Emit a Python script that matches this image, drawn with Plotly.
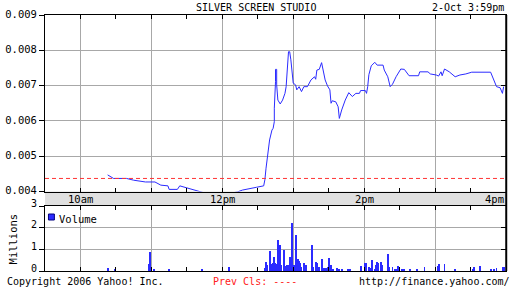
import plotly.graph_objects as go

DAY = "2006-10-02"

price_times = ["10:23","10:27","10:28","10:39","10:45","10:55","11:03","11:08","11:14","11:15",
               "11:22","11:24","11:28","11:35","11:41","11:47","12:04","12:13","12:17","12:22",
               "12:29","12:35","12:36","12:37","12:40","12:42","12:43","12:44","12:44","12:45",
               "12:45","12:46","12:46","12:47","12:49","12:51","12:53","12:54","12:55","12:56",
               "12:57","12:58","13:00","13:02","13:03","13:05","13:07","13:09","13:12","13:15",
               "13:18","13:19","13:20","13:22","13:24","13:25","13:27","13:29","13:31","13:32",
               "13:33","13:36","13:38","13:39","13:41","13:44","13:47","13:50","13:53","13:56",
               "13:57","14:01","14:02","14:03","14:04","14:06","14:09","14:11","14:16","14:17",
               "14:20","14:22","14:24","14:27","14:31","14:34","14:38","14:46","14:47","14:54",
               "14:56","15:01","15:03","15:05","15:06","15:08","15:12","15:17","15:21","15:26",
               "15:31","15:47","15:49","15:52","15:55","15:57","15:58"]
prices = [0.00447,0.00440,0.00437,0.00437,0.00432,0.00427,0.00427,0.00418,0.00416,0.00406,
          0.00406,0.00416,0.00412,0.00406,0.00399,0.00394,0.00393,0.00399,0.00404,0.00408,
          0.00412,0.00416,0.00433,0.00466,0.00546,0.00574,0.00579,0.00598,0.00636,0.00711,
          0.00746,0.00746,0.00702,0.00659,0.00648,0.00659,0.00678,0.00697,0.00735,0.00796,
          0.00796,0.00773,0.00707,0.00702,0.00688,0.00697,0.00683,0.00697,0.00697,0.00716,
          0.00725,0.00718,0.00744,0.00746,0.00765,0.00746,0.00716,0.00699,0.00688,0.00650,
          0.00657,0.00654,0.00640,0.00607,0.00631,0.00659,0.00680,0.00669,0.00678,0.00678,
          0.00686,0.00686,0.00678,0.00697,0.00731,0.00756,0.00766,0.00758,0.00758,0.00744,
          0.00725,0.00697,0.00704,0.00725,0.00747,0.00746,0.00728,0.00728,0.00739,0.00739,
          0.00733,0.00730,0.00727,0.00739,0.00728,0.00747,0.00739,0.00725,0.00730,0.00733,
          0.00738,0.00738,0.00721,0.00697,0.00694,0.00678,0.00697]

vol_times = ["10:23","10:29","10:58","10:59","11:02","11:15","11:43","12:06","12:36","12:37",
             "12:38","12:40","12:41","12:43","12:44","12:45","12:46","12:47","12:48","12:49",
             "12:50","12:52","12:53","12:54","12:55","12:56","12:57","12:59","13:00","13:01",
             "13:02","13:04","13:05","13:06","13:07","13:09","13:11","13:16","13:17","13:19",
             "13:20","13:21","13:22","13:24","13:26","13:28","13:29","13:30","13:32","13:34",
             "13:37","13:39","13:41","13:46","13:48","13:57","14:01","14:02","14:04","14:06",
             "14:07","14:09","14:10","14:11","14:12","14:14","14:15","14:20","14:21","14:24",
             "14:26","14:28","14:29","14:32","14:34","14:39","14:45","14:51","15:02","15:03",
             "15:08","15:17","15:32","15:33","15:38","15:47","15:50","15:52","15:57","15:58"]
volumes = [0.14,0.08,0.32,0.88,0.08,0.08,0.05,0.20,0.15,0.43,
           0.28,0.92,0.31,0.38,0.66,0.35,0.31,1.43,0.05,1.20,
           0.28,0.97,0.20,0.25,0.28,0.28,0.63,2.20,0.20,0.28,
           1.66,0.55,0.46,0.35,0.20,0.35,0.28,1.20,0.20,0.40,
           0.35,0.15,0.20,0.55,0.12,0.15,0.20,0.62,0.28,0.05,
           0.12,0.05,0.10,0.10,0.10,0.23,0.35,0.35,0.20,0.15,
           0.50,0.05,0.30,0.40,0.38,0.43,0.30,0.77,0.20,0.20,
           0.10,0.10,0.23,0.05,0.05,0.10,0.05,0.20,0.23,0.32,
           0.32,0.10,0.10,0.20,0.23,0.10,0.10,0.15,0.20,0.20]

prev_close = 0.00437
y_ticks_price = [0.004, 0.005, 0.006, 0.007, 0.008, 0.009]
y_ticks_vol = [0, 1, 2, 3]
band_labels = [("10:00", "10am"), ("12:00", "12pm"), ("14:00", "2pm"), ("16:00", "4pm")]

FONT = "DejaVu Sans Mono"
BLUE = "#2b2bff"
GRID = "#a8a8a8"

def ts(t):
    return f"{DAY} {t}"

x0, x1 = ts("09:30"), ts("16:00")

fig = go.Figure()
fig.add_trace(go.Scatter(x=[ts(t) for t in price_times], y=prices, mode="lines",
                         line=dict(color=BLUE, width=1), xaxis="x", yaxis="y",
                         showlegend=False, hoverinfo="skip"))
fig.add_trace(go.Bar(x=[ts(t) for t in vol_times], y=volumes, width=45000,
                     marker=dict(color=BLUE, line=dict(width=0)), xaxis="x2", yaxis="y2",
                     showlegend=False, hoverinfo="skip"))
# helper traces so right-side inner tick axes get drawn
fig.add_trace(go.Scatter(x=[x0], y=[0.005], mode="lines", xaxis="x", yaxis="y3",
                         showlegend=False, hoverinfo="skip"))
fig.add_trace(go.Scatter(x=[x0], y=[1], mode="lines", xaxis="x2", yaxis="y4",
                         showlegend=False, hoverinfo="skip"))

main_bottom = (271 - 191.5) / 256
vol_top = (271 - 206) / 256

xcommon = dict(type="date", range=[x0, x1], showgrid=True, gridcolor=GRID, gridwidth=1,
               tick0=ts("10:00"), dtick=3600000, ticks="inside", ticklen=4, tickcolor="black",
               showticklabels=False, showline=True, linecolor="black", linewidth=1,
               mirror="allticks", zeroline=False,
               minor=dict(tick0=ts("09:30"), dtick=1800000, ticks="inside", ticklen=4,
                          tickcolor="black", showgrid=False))

fig.update_layout(
    width=512, height=288, autosize=False,
    margin=dict(l=40, r=5, t=15, b=17, pad=0),
    paper_bgcolor="white", plot_bgcolor="white",
    font=dict(family=FONT, size=10, color="black"),
    bargap=0,
    xaxis=dict(domain=[0, 1], anchor="y", **xcommon),
    xaxis2=dict(domain=[0, 1], anchor="y2", matches="x", **xcommon),
    yaxis=dict(domain=[main_bottom, 1], anchor="x", range=[0.004, 0.009],
               tickvals=y_ticks_price, tickformat=".3f", ticks="outside", ticklen=5,
               tickcolor="black", showline=True, linecolor="black", linewidth=1, mirror=True,
               showgrid=True, gridcolor=GRID, zeroline=False, ticklabelshift=-1,
               tickfont=dict(family=FONT, size=10.5)),
    yaxis3=dict(overlaying="y", side="right", anchor="x", range=[0.004, 0.009],
                tickvals=y_ticks_price[1:-1], ticks="inside", ticklen=5, tickcolor="black",
                showticklabels=False, showgrid=False, showline=False, zeroline=False),
    yaxis2=dict(domain=[0, vol_top], anchor="x2", range=[0, 3], tickvals=y_ticks_vol,
                ticks="outside", ticklen=5, tickcolor="black", showline=True,
                linecolor="black", linewidth=1, mirror=True, showgrid=True, gridcolor=GRID,
                zeroline=False, ticklabelshift=-3, tickfont=dict(family=FONT, size=10)),
    yaxis4=dict(overlaying="y2", side="right", anchor="x2", range=[0, 3],
                tickvals=[1, 2], ticks="inside", ticklen=5, tickcolor="black",
                showticklabels=False, showgrid=False, showline=False, zeroline=False),
)

shapes = [
    dict(type="rect", xref="paper", yref="paper", x0=0, x1=1, y0=vol_top, y1=main_bottom,
         fillcolor="#e0e0e0", line=dict(width=0), layer="below"),
    dict(type="line", xref="x domain", yref="y", x0=0, x1=1, y0=prev_close, y1=prev_close,
         line=dict(color="#ff3333", width=1, dash="4px,3px")),
    dict(type="line", xref="paper", yref="paper", x0=1.0005, x1=1.0005, y0=0, y1=1,
         line=dict(color="black", width=2)),
    dict(type="rect", xref="paper", yref="paper", x0=(43.5 - 40) / 467, x1=(49.5 - 40) / 467,
         y0=(271 - 220) / 256, y1=(271 - 214) / 256, fillcolor=BLUE,
         line=dict(color="#000080", width=1)),
]
fig.update_layout(shapes=shapes)

foot_y = (271 - 281.5) / 256
ann = []
for t, lab in band_labels:
    ann.append(dict(xref="x", yref="paper", x=ts(t), y=(271 - 198.5) / 256, text=lab,
                    showarrow=False, xanchor="right" if lab == "4pm" else "center",
                    yanchor="middle", font=dict(family=FONT, size=10.5)))
ann += [
    dict(xref="paper", yref="paper", x=(254 - 40) / 467, y=1 + 8 / 256,
         text="SILVER SCREEN STUDIO", showarrow=False, xanchor="center", yanchor="middle"),
    dict(xref="paper", yref="paper", x=(507 - 40) / 467, y=1 + 8 / 256,
         text="2-Oct 3:59pm", showarrow=False, xanchor="right", yanchor="middle"),
    dict(xref="paper", yref="paper", x=(0 - 40) / 467, y=foot_y, borderpad=0,
         text="Copyright 2006 Yahoo! Inc.", showarrow=False, xanchor="left", yanchor="middle"),
    dict(xref="paper", yref="paper", x=(209 - 40) / 467, y=foot_y, borderpad=0,
         text="Prev Cls: ----", showarrow=False, xanchor="left", yanchor="middle",
         font=dict(color="#ff2020")),
    dict(xref="paper", yref="paper", x=(512 - 40) / 467, y=foot_y, borderpad=0,
         text="http://finance.yahoo.com/", showarrow=False, xanchor="right", yanchor="middle"),
    dict(xref="paper", yref="paper", x=(8 - 40) / 467, y=(271 - 239) / 256,
         text="Millions", showarrow=False, textangle=-90, xanchor="center", yanchor="middle",
         font=dict(size=10.5)),
    dict(xref="paper", yref="paper", x=(52 - 40) / 467, y=(271 - 218.5) / 256,
         text="Volume", showarrow=False, xanchor="left", yanchor="middle",
         font=dict(size=10.5)),
]
fig.update_layout(annotations=ann)

fig.write_html("out.html")
